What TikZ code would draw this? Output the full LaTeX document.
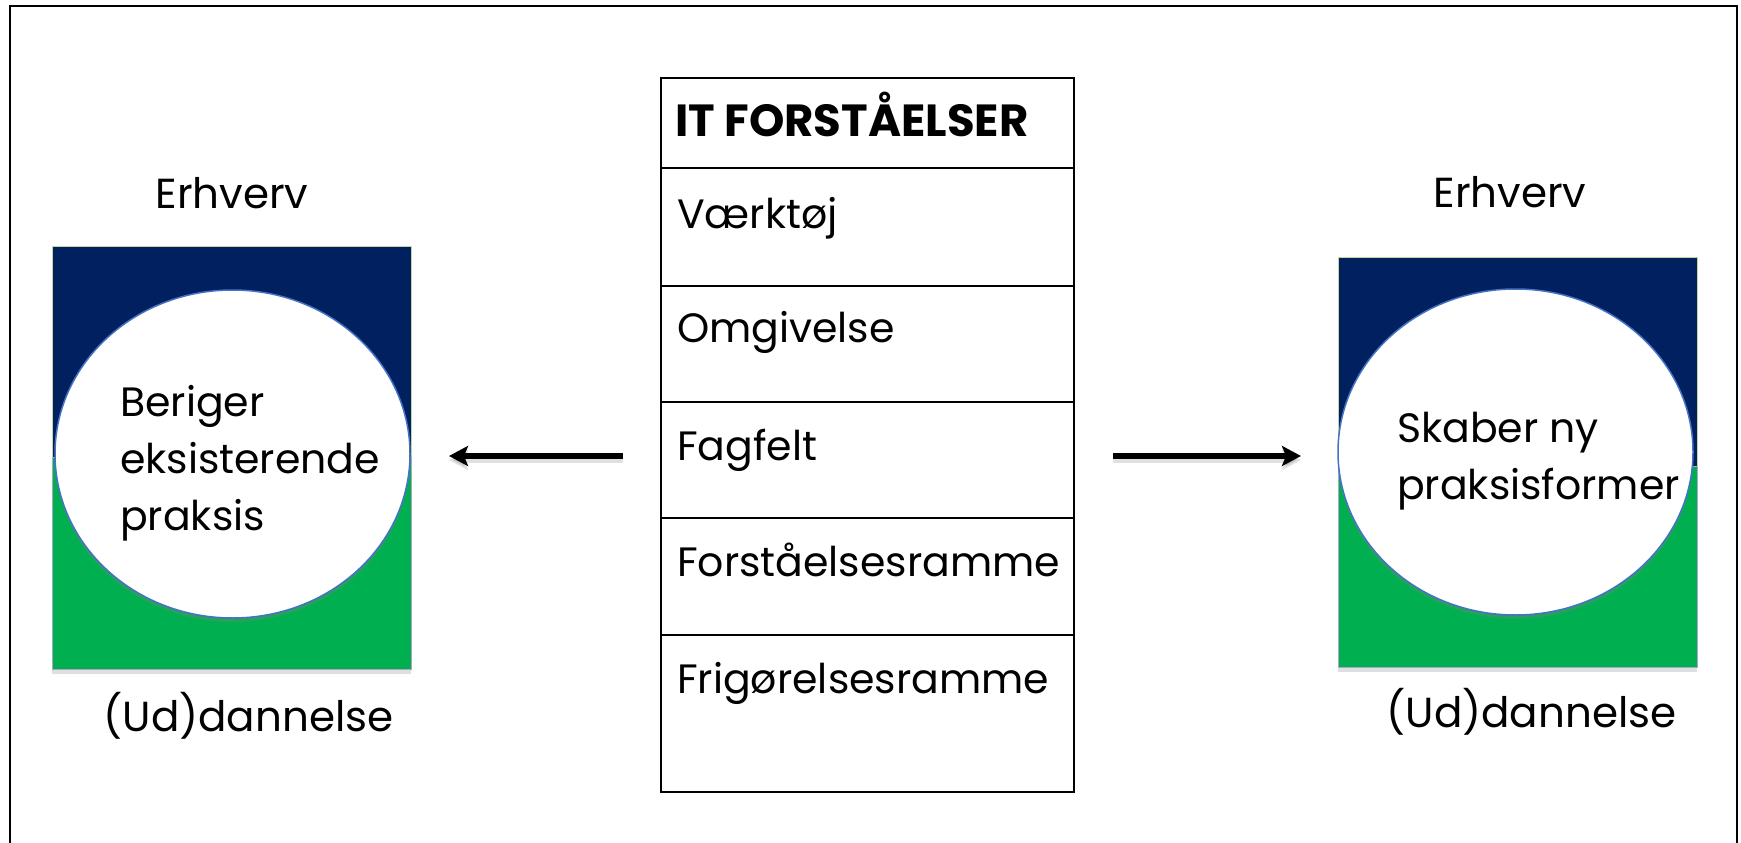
\documentclass[tikz,border=0pt]{standalone}
\usepackage{fontspec}
\setmainfont{Poppins}
\usetikzlibrary{calc,shapes.geometric,arrows.meta,shadows}
\definecolor{navy}{RGB}{0,32,96}
\definecolor{grn}{RGB}{0,176,80}
\definecolor{ellb}{RGB}{68,114,196}
\definecolor{topline}{RGB}{195,214,155}
\definecolor{botline}{RGB}{179,162,199}
\begin{document}
\begin{tikzpicture}[x=1pt,y=-1pt,
  bigtxt/.style={font=\fontsize{42}{57}\selectfont, inner sep=0pt},
  ovaltxt/.style={font=\fontsize{41}{57}\selectfont, inner sep=0pt, align=left, anchor=west},
  rowtxt/.style={font=\fontsize{41}{47}\selectfont, inner sep=0pt, anchor=base west},
  headtxt/.style={font=\fontsize{45}{50}\selectfont\bfseries, inner sep=0pt, anchor=base west},
  rowbox/.style={draw, line width=2.5pt, minimum width=413pt, anchor=north west, inner sep=0pt, outer sep=0pt},
  halftop/.style={fill=navy, draw=topline, line width=1pt, minimum width=359pt, anchor=north west, inner sep=0pt, outer sep=0pt,
    drop shadow={opacity=0.25, shadow xshift=0pt, shadow yshift=-5pt}},
  halfbot/.style={fill=grn, draw=botline, line width=1pt, minimum width=359pt, anchor=north west, inner sep=0pt, outer sep=0pt,
    drop shadow={opacity=0.25, shadow xshift=0pt, shadow yshift=-5pt}},
  oval/.style={ellipse, fill=white, draw=ellb, line width=1.5pt, inner sep=0pt, outer sep=0pt,
    drop shadow={opacity=0.3, shadow xshift=0pt, shadow yshift=-4pt}},
  arr/.style={line width=5.5pt, -{Stealth[length=19pt, width=20pt, inset=4pt]}},
  arrshadow/.style={line width=6pt, black, opacity=0.12, -{Stealth[length=19pt, width=20pt, inset=4pt]}}
]
\useasboundingbox (0,0) rectangle (1741,843);
\fill[white] (0,0) rectangle (1741,843);
% frame
\draw[line width=2pt] (10,850) -- (10,6) -- (1737,6) -- (1737,850);

% left block
\node[halftop, minimum height=211pt] (lt) at (52,246) {};
\node[halfbot, minimum height=212pt] (lb) at (52,457) {};
\node[oval, minimum width=355pt, minimum height=328pt] (le) at (232.5,454) {};
\node[ovaltxt] (ltxt) at (120,463) {Beriger\\eksisterende\\praksis};
\node[bigtxt, anchor=base] (lerh) at (232,208) {Erhverv};
\node[bigtxt, anchor=base] (lud) at (248.5,731) {(Ud)dannelse};

% right block
\node[halftop, minimum height=209pt] (rt) at (1338,257) {};
\node[halfbot, minimum height=201pt] (rb) at (1338,466) {};
\node[oval, minimum width=355pt, minimum height=326pt] (re) at (1515.5,452) {};
\node[ovaltxt] (rtxt) at (1397,461) {Skaber ny\\praksisformer};
\node[bigtxt, anchor=base] (rerh) at (1510,207) {Erhverv};
\node[bigtxt, anchor=base] (rud) at (1531.5,727) {(Ud)dannelse};

% table
\node[rowbox, minimum height=90pt] (r0) at (661,78) {};
\node[rowbox, minimum height=118pt] (r1) at (661,168) {};
\node[rowbox, minimum height=116pt] (r2) at (661,286) {};
\node[rowbox, minimum height=116pt] (r3) at (661,402) {};
\node[rowbox, minimum height=117pt] (r4) at (661,518) {};
\node[rowbox, minimum height=157pt] (r5) at (661,635) {};
\node[headtxt] (t0) at ($(r0.north west)+(14,58)$) {IT FORSTÅELSER};
\node[rowtxt] (t1) at ($(r1.north west)+(16,60)$) {Værktøj};
\node[rowtxt] (t2) at ($(r2.north west)+(16,56)$) {Omgivelse};
\node[rowtxt] (t3) at ($(r3.north west)+(16,58)$) {Fagfelt};
\node[rowtxt] (t4) at ($(r4.north west)+(16,58)$) {Forståelsesramme};
\node[rowtxt] (t5) at ($(r5.north west)+(16,58)$) {Frigørelsesramme};

% arrows
\coordinate (la) at ([yshift=4pt]r3.west);
\coordinate (ra) at ([yshift=4pt]r3.east);
\draw[arrshadow, shorten <=38pt, shorten >=39pt] ([yshift=-4pt]la) -- ([yshift=-4pt]la -| le.east);
\draw[arr, shorten <=38pt, shorten >=39pt] (la) -- (la -| le.east);
\draw[arrshadow, shorten <=39pt, shorten >=37pt] ([yshift=-4pt]ra) -- ([yshift=-4pt]ra -| re.west);
\draw[arr, shorten <=39pt, shorten >=37pt] (ra) -- (ra -| re.west);
\end{tikzpicture}
\end{document}
